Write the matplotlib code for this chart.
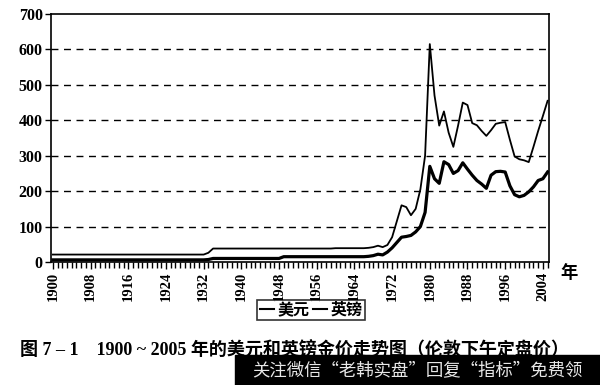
import matplotlib
matplotlib.use("Agg")
import matplotlib.pyplot as plt
from matplotlib.ticker import MultipleLocator

plt.rcParams['font.family'] = ['Liberation Serif', 'Noto Sans CJK SC', 'DejaVu Sans']

years = list(range(1900, 2006))

# thin line: gold price in US dollars
usd = [21, 21, 21, 21, 21, 21, 21, 21, 21, 21,      # 1900-1909
       21, 21, 21, 21, 21, 21, 21, 21, 21, 21,      # 1910-1919
       21, 21, 21, 21, 21, 21, 21, 21, 21, 21,      # 1920-1929
       21, 21, 21, 26, 38, 38, 38, 38, 38, 38,      # 1930-1939
       38, 38, 38, 38, 38, 38, 38, 38, 38, 38,      # 1940-1949
       38, 38, 38, 38, 38, 38, 38, 38, 38, 38,      # 1950-1959
       39, 39, 39, 39, 39, 39, 39, 40, 42, 46,      # 1960-1969
       42, 48, 70, 115, 160, 155, 132, 150, 205, 300,   # 1970-1979
       615, 470, 385, 425, 365, 325, 385, 450, 443, 392,  # 1980-1989
       386, 370, 356, 372, 390, 393, 395, 345, 298, 290,  # 1990-1999
       287, 282, 325, 370, 412, 455]                      # 2000-2005

# thick line: gold price in pounds sterling
gbp = [6, 6, 6, 6, 6, 6, 6, 6, 6, 6,
       6, 6, 6, 6, 6, 6, 6, 6, 6, 6,
       6, 6, 6, 6, 6, 6, 6, 6, 6, 6,
       6, 6, 6, 7, 10, 10, 10, 10, 10, 10,
       10, 10, 10, 10, 10, 10, 10, 10, 10, 15,
       15, 15, 15, 15, 15, 15, 15, 15, 15, 15,
       15, 15, 15, 15, 15, 15, 15, 16, 18, 22,
       20, 28, 40, 55, 70, 72, 75, 85, 100, 140,
       270, 235, 222, 283, 275, 250, 258, 280, 262, 245,
       230, 220, 208, 245, 255, 256, 254, 215, 190, 184,
       188, 198, 212, 230, 235, 254]

tick_years = list(range(1900, 2005, 8))
legend_names = ["美元", "英镑"]
caption = "图 7 – 1　1900 ~ 2005 年的美元和英镑金价走势图（伦敦下午定盘价）"
watermark = "关注微信“老韩实盘”回复“指标”免费领"

fig = plt.figure(figsize=(6.0, 3.85), dpi=100)
ax = fig.add_axes([51 / 600, 1 - 262 / 385, 498 / 600, 248 / 385])

l1, = ax.plot(years, usd, color='black', lw=1.3)
l2, = ax.plot(years, gbp, color='black', lw=2.3)

ax.set_xlim(1899.6, 2005.3)
ax.set_ylim(0, 700)
ax.yaxis.set_major_locator(MultipleLocator(100))
ax.set_xticks(tick_years)
ax.xaxis.set_minor_locator(MultipleLocator(1))

for y in range(100, 700, 100):
    ax.axhline(y, color='black', lw=1.0, ls=(0, (5, 4)), zorder=0)

for s in ax.spines.values():
    s.set_linewidth(1.2)
    s.set_color('black')

ax.tick_params(axis='both', which='both', direction='out', color='black', width=1.0)
ax.tick_params(axis='x', which='major', length=5, pad=2)
ax.tick_params(axis='x', which='minor', length=4)
ax.tick_params(axis='y', length=4, pad=2)

for lab in ax.get_xticklabels():
    lab.set_rotation(90)
    lab.set_fontsize(10.5)
    lab.set_fontweight('bold')
    lab.set_family('Liberation Serif')
for lab in ax.get_yticklabels():
    lab.set_fontsize(11.5)
    lab.set_fontweight('bold')
    lab.set_family('Liberation Serif')

fig.text(560 / 600, 1 - 273 / 385, "年", fontsize=12.5, fontweight='bold',
         family=['Noto Sans CJK SC'], va='center', ha='left')

leg = fig.legend([l1, l2], legend_names, loc='center', bbox_to_anchor=(311 / 600, 1 - 310 / 385),
                 ncol=2, frameon=True, fancybox=False, edgecolor='black',
                 handlelength=0.9, handletextpad=0.2, columnspacing=0.2,
                 borderpad=0.15, borderaxespad=0,
                 prop={'family': ['Noto Sans CJK SC'], 'weight': 'bold', 'size': 11.5})
leg.get_frame().set_linewidth(1.2)
for h in leg.get_lines():
    h.set_linewidth(1.5)

fig.text(20 / 600, 1 - 351 / 385, caption, fontsize=13, fontweight='bold',
         family=['Liberation Serif', 'Noto Sans CJK SC'], va='center', ha='left')

# watermark strip over the lower right corner
fig.patches.append(plt.Rectangle((235 / 600, 0), 365 / 600, 30 / 385,
                                 transform=fig.transFigure, color='black', zorder=5))
fig.text(417 / 600, 1 - 370 / 385, watermark, fontsize=12.5, color='#e8e8e8',
         family=['Noto Sans CJK SC'], va='center', ha='center', zorder=6)

fig.savefig("out.png", dpi=100)
